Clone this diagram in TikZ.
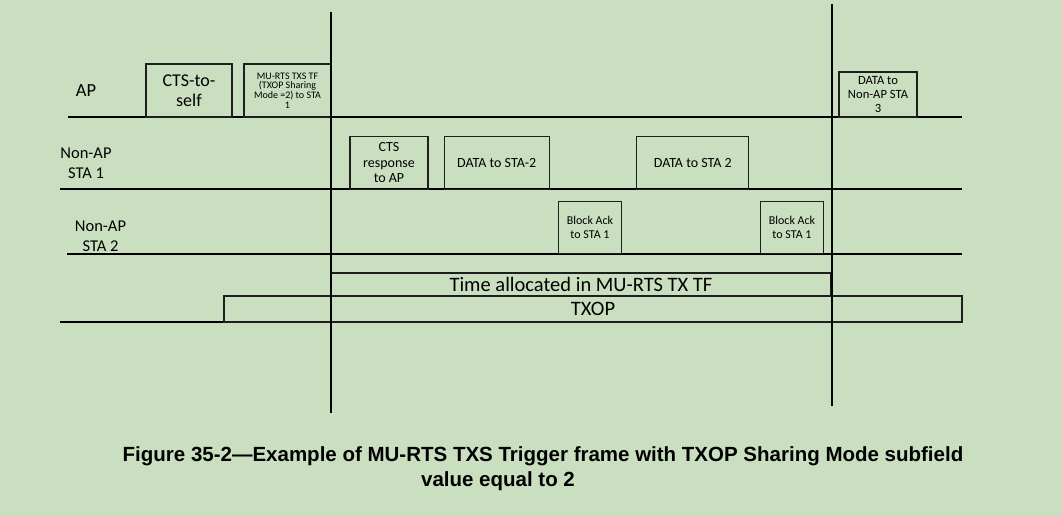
\documentclass[tikz,border=0pt]{standalone}
\usepackage{fontspec}
\setmainfont{Carlito}
\newfontfamily\capfont{Liberation Sans}
\definecolor{bgc}{RGB}{201,223,191}
\definecolor{boxline}{RGB}{30,30,30}
\tikzset{
  box/.style={draw=boxline, line width=1.2pt, rectangle, inner sep=0pt, align=center, font=\fontsize{14}{15.5}\selectfont},
  lane/.style={draw=black, line width=1.5pt},
  mark line/.style={draw=black, line width=2pt},
  lbl/.style={inner sep=0pt, align=center},
}
\begin{document}
\begin{tikzpicture}[x=1pt,y=-1pt]
\fill[bgc] (0,0) rectangle (1062,516);
\useasboundingbox (0,0) rectangle (1062,516);

% lane lines
\coordinate (apL) at (68,117);   \coordinate (apR) at (962,117);
\coordinate (s1L) at (60,189);   \coordinate (s1R) at (962,189);
\coordinate (s2L) at (67,254);   \coordinate (s2R) at (962,254);
\coordinate (btL) at (60,322);   \coordinate (btR) at (224,322);
\draw[lane] (apL) -- (apR);
\draw[lane] (s1L) -- (s1R);
\draw[lane] (s2L) -- (s2R);
\draw[lane] (btL) -- (btR);

% time boxes
\node[box, minimum width=500pt, minimum height=23pt, font=\fontsize{20.5}{22}\selectfont] (time) at (581,284.5) {Time allocated in MU-RTS TX TF};
\node[box, minimum width=738pt, minimum height=26pt, font=\fontsize{20.5}{22}\selectfont] (txop) at (593,309) {TXOP};

% labels
\node[lbl, font=\fontsize{18.5}{20}\selectfont] (ap) at (86,91) {AP};
\node[lbl, font=\fontsize{16.5}{20}\selectfont] (sta1) at (86,163) {Non-AP\\STA 1};
\node[lbl, font=\fontsize{16.5}{20}\selectfont] (sta2) at (100.5,236) {Non-AP\\STA 2};

% AP frames
\node[box, minimum width=86pt, minimum height=53pt, font=\fontsize{18}{20}\selectfont] (cts) at (189,90.5) {CTS-to-\\self};
\node[box, minimum width=87pt, minimum height=53pt, font=\fontsize{10}{9.6}\selectfont] (murts) at (287.5,90.5) {MU-RTS TXS TF\\(TXOP Sharing\\Mode =2) to STA\\1};
\node[box, minimum width=78pt, minimum height=45pt, font=\fontsize{12.6}{14}\selectfont] (data3) at (878,94.5) {DATA to\\Non-AP STA\\3};

% STA1 frames
\node[box, minimum width=78pt, minimum height=53pt] (ctsr) at (389,163) {CTS\\response\\to AP};
\node[box, minimum width=105pt, minimum height=53pt] (d2a) at (496.7,163) {DATA to STA-2};
\node[box, minimum width=112pt, minimum height=53pt] (d2b) at (692.8,163) {DATA to STA 2};

% STA2 frames
\node[box, minimum width=63pt, minimum height=52pt, font=\fontsize{12}{13.5}\selectfont] (ba1) at (590,227.5) {Block Ack\\to STA 1};
\node[box, minimum width=63pt, minimum height=52pt, font=\fontsize{12}{13.5}\selectfont] (ba2) at (792,227.5) {Block Ack\\to STA 1};

% vertical markers
\coordinate (v1t) at (331,12);  \coordinate (v1b) at (331,413);
\coordinate (v2t) at (832,4);   \coordinate (v2b) at (832,406);
\draw[mark line] (v1t) -- (v1b);
\draw[mark line] (v2t) -- (v2b);

% caption
\node[lbl, font=\capfont\bfseries\fontsize{20.5}{24}\selectfont] (cap1) at (543,456) {Figure 35-2—Example of MU-RTS TXS Trigger frame with TXOP Sharing Mode subfield};
\node[lbl, font=\capfont\bfseries\fontsize{20.5}{24}\selectfont] (cap2) at (498,481) {value equal to 2};
\end{tikzpicture}
\end{document}
